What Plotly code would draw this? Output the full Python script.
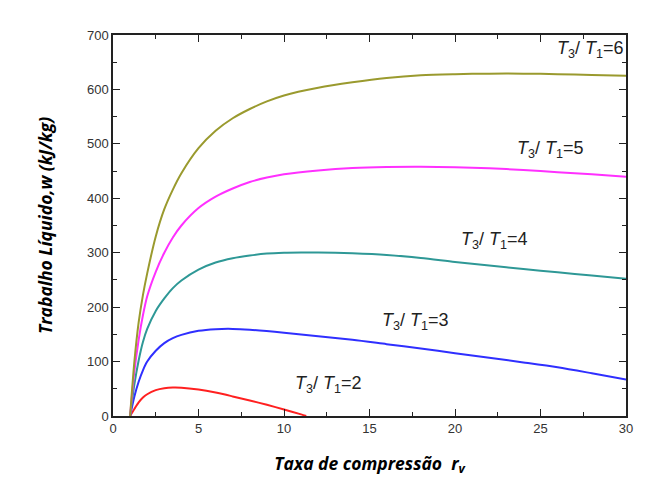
import plotly.graph_objects as go

# compression ratio / net work values
rv_2 = [1, 1.25, 1.5, 1.75, 2, 2.5, 3, 3.5, 4, 5, 6, 7, 8, 9, 10, 11, 11.3]
w_2 = [0, 13, 25, 34, 40, 47.5, 51, 52.3, 52, 48.5, 43, 36, 28.5, 20.5, 12, 3, 0]

rv_3 = [1, 1.25, 1.5, 1.75, 2, 2.5, 3, 3.5, 4, 5, 6, 7, 8, 10, 12, 14, 16, 18,
        20, 22, 24, 26, 28, 30]
w_3 = [0, 36, 63, 84, 100, 120, 134, 143, 149, 156.5, 159.5, 160, 158.5, 153,
       146.5, 140, 132, 124, 115.5, 107, 98.5, 89.5, 78.5, 67]

rv_4 = [1, 1.25, 1.5, 1.75, 2, 2.5, 3, 3.5, 4, 5, 6, 7, 8, 9, 10, 11, 12, 14,
        16, 18, 20, 22, 24, 26, 28, 30]
w_4 = [0, 58, 102, 136, 160, 193, 216, 235, 249, 269, 282, 290, 295, 298.5,
       300, 300.5, 300.5, 299, 296, 290.5, 283, 276.5, 270, 264, 258, 252]

rv_5 = [1, 1.25, 1.5, 1.75, 2, 2.5, 3, 3.5, 4, 5, 6, 7, 8, 9, 10, 12, 14, 16,
        18, 20, 22, 24, 26, 28, 30]
w_5 = [0, 82, 140, 185, 220, 265, 300, 328, 350, 382, 403, 418, 430, 438, 444,
       451, 455.5, 457.5, 458, 457, 455, 452, 448, 444, 439.5]

rv_6 = [1, 1.25, 1.5, 1.75, 2, 2.5, 3, 3.5, 4, 5, 6, 7, 8, 9, 10, 12, 14, 16,
        18, 20, 22, 24, 26, 28, 30]
w_6 = [0, 100, 172, 222, 262, 330, 380, 416, 446, 492, 524, 547, 564, 578,
       589, 603, 613, 621, 626, 628, 629, 629, 628, 626.5, 625]

ratios = ["2", "3", "4", "5", "6"]
label_x = [12.6, 17.7, 22.3, 25.6, 27.9]
label_y = [57, 173, 323, 489, 673]

series = [
    (rv_2, w_2, "#ff2020"),
    (rv_3, w_3, "#2f2fff"),
    (rv_4, w_4, "#2e9896"),
    (rv_5, w_5, "#ff30ff"),
    (rv_6, w_6, "#9a9a2e"),
]

fig = go.Figure()
for (x, y, c), r in zip(series, ratios):
    fig.add_trace(go.Scatter(
        x=x, y=y, mode="lines", name="T3/T1=" + r,
        line=dict(color=c, width=2, shape="spline", smoothing=0.8),
    ))

for r, lx, ly in zip(ratios, label_x, label_y):
    fig.add_annotation(
        x=lx, y=ly, showarrow=False,
        text="<i>T</i><sub>3</sub>/ <i>T</i><sub>1</sub>=" + r,
        font=dict(family="Liberation Sans", size=18, color="#222222"),
    )

axis_common = dict(
    showline=True, linecolor="#222222", linewidth=1.5, mirror="allticks",
    ticks="inside", ticklen=7, tickwidth=1.3, tickcolor="#222222",
    minor=dict(ticks="inside", ticklen=4, tickwidth=1.2, tickcolor="#222222"),
    showgrid=False, zeroline=False,
    tickfont=dict(family="Liberation Sans", size=13, color="#333333"),
)

title_font = dict(family="Open Sans", size=17.5, weight="bold",
                  style="italic", color="black")

fig.update_xaxes(
    range=[0, 30], dtick=5, minor_dtick=2.5,
    title=dict(text="Taxa de compressão  r<sub>v</sub>", standoff=22,
               font=title_font),
    **axis_common,
)
fig.update_yaxes(
    range=[0, 700], dtick=100, minor_dtick=50,
    title=dict(text="Trabalho Líquido,w (kJ/kg)", standoff=30,
               font=title_font),
    **axis_common,
)

fig.update_layout(
    width=646, height=485,
    margin=dict(l=105, r=28, t=27, b=77),
    plot_bgcolor="white", paper_bgcolor="white",
    showlegend=False,
)

fig.write_html("out.html")
